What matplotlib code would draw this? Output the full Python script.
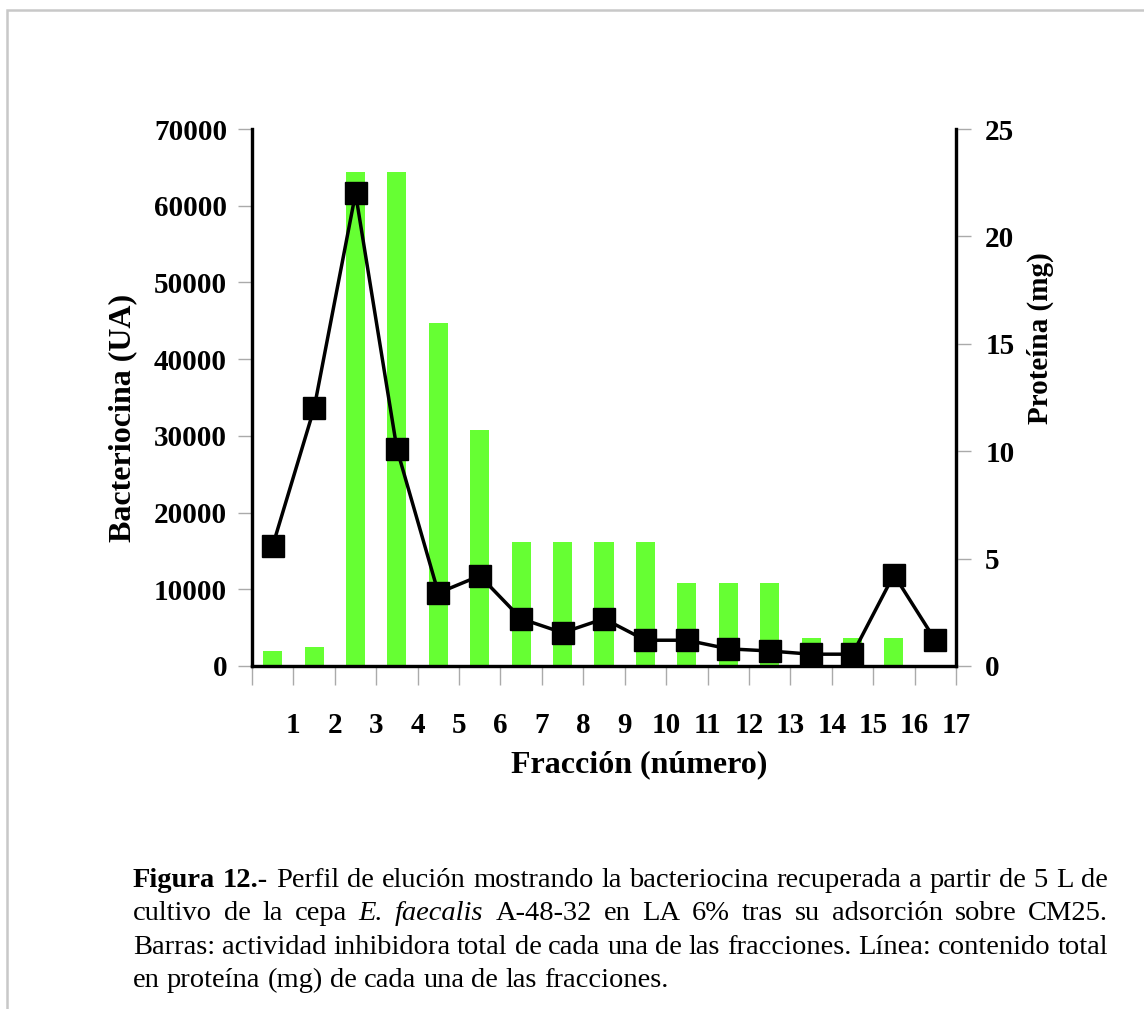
import matplotlib
matplotlib.use("Agg")
import matplotlib.pyplot as plt
from matplotlib.patches import Rectangle

# Datos
fracciones = list(range(1, 18))
bacteriocina = [1950, 2500, 64400, 64400, 44700, 30700, 16100, 16100, 16100, 16100,
                10800, 10800, 10800, 3600, 3600, 3600, 0]
proteina = [5.6, 12.0, 22.0, 10.1, 3.4, 4.2, 2.2, 1.55, 2.2, 1.2,
            1.2, 0.8, 0.7, 0.55, 0.55, 4.25, 1.2]
yticks_izq = [0, 10000, 20000, 30000, 40000, 50000, 60000, 70000]
yticks_der = [0, 5, 10, 15, 20, 25]

W, H = 1144, 1009
plt.rcParams['font.family'] = ['Liberation Serif', 'DejaVu Serif']
fig = plt.figure(figsize=(W / 100, H / 100), dpi=100)

# caja gris alrededor
fig.patches.append(Rectangle((7 / W, -0.5), 2, 1.5 - 10 / H, transform=fig.transFigure,
                             fill=False, edgecolor='#c8c8c8', lw=1.8))

ax = fig.add_axes([252 / W, 1 - 666 / H, (956 - 252) / W, (666 - 129) / H])
ax2 = ax.twinx()

xs = [f - 0.5 for f in fracciones]
ax.bar(xs, bacteriocina, width=0.46, color='#66ff33', zorder=2)
ax2.plot(xs, proteina, color='black', lw=2.5, marker='s', markersize=16.5,
         markerfacecolor='black', markeredgecolor='black', zorder=3)

ax.set_xlim(0, 17)
ax.set_ylim(0, 70000)
ax2.set_ylim(0, 25)

ax.set_xticks(range(0, 18))
ax.set_xticklabels([''] + [str(f) for f in fracciones])
ax.set_yticks(yticks_izq)
ax.set_yticklabels([str(v) for v in yticks_izq])
ax2.set_yticks(yticks_der)
ax2.set_yticklabels([str(v) for v in yticks_der])

for a in (ax, ax2):
    a.spines['top'].set_visible(False)
    for s in ('left', 'right', 'bottom'):
        a.spines[s].set_linewidth(2.3)
        a.spines[s].set_color('black')

ax.tick_params(axis='x', direction='out', length=14, width=1, color='#aaaaaa', pad=19,
               labelsize=21)
ax.tick_params(axis='y', direction='out', length=10, width=1, color='#aaaaaa', pad=8,
               labelsize=21)
ax2.tick_params(axis='y', direction='out', length=11, width=1, color='#aaaaaa', pad=10,
                labelsize=21)
for lab in ax.get_xticklabels() + ax.get_yticklabels() + ax2.get_yticklabels():
    lab.set_fontweight('bold')

fig.text(639 / W, 1 - 765 / H, 'Fracción (número)', ha='center', va='center',
         fontsize=23, fontweight='bold')
fig.text(123 / W, 1 - 418 / H, 'Bacteriocina (UA)', ha='center', va='center',
         rotation=90, fontsize=23, fontweight='bold')
fig.text(1040 / W, 1 - 338 / H, 'Proteína (mg)', ha='center', va='center',
         rotation=90, fontsize=21, fontweight='bold')

# pie de figura justificado
lineas = [
    [('Figura', 'b'), ('12.-', 'b'), ('Perfil', 'n'), ('de', 'n'), ('elución', 'n'),
     ('mostrando', 'n'), ('la', 'n'), ('bacteriocina', 'n'), ('recuperada', 'n'),
     ('a', 'n'), ('partir', 'n'), ('de', 'n'), ('5', 'n'), ('L', 'n'), ('de', 'n')],
    [('cultivo', 'n'), ('de', 'n'), ('la', 'n'), ('cepa', 'n'), ('E.', 'i'),
     ('faecalis', 'i'), ('A-48-32', 'n'), ('en', 'n'), ('LA', 'n'), ('6%', 'n'),
     ('tras', 'n'), ('su', 'n'), ('adsorción', 'n'), ('sobre', 'n'), ('CM25.', 'n')],
    [('Barras:', 'n'), ('actividad', 'n'), ('inhibidora', 'n'), ('total', 'n'),
     ('de', 'n'), ('cada', 'n'), ('una', 'n'), ('de', 'n'), ('las', 'n'),
     ('fracciones.', 'n'), ('Línea:', 'n'), ('contenido', 'n'), ('total', 'n')],
    [('en', 'n'), ('proteína', 'n'), ('(mg)', 'n'), ('de', 'n'), ('cada', 'n'),
     ('una', 'n'), ('de', 'n'), ('las', 'n'), ('fracciones.', 'n')],
]
bases = [887, 920, 954, 987]
x0, x1 = 133, 1108
fs_cap = 20.5

renderer = fig.canvas.get_renderer()
t_esp = fig.text(0, 0, 'a a', fontsize=fs_cap)
t_sin = fig.text(0, 0, 'aa', fontsize=fs_cap)
esp_w = t_esp.get_window_extent(renderer).width - t_sin.get_window_extent(renderer).width
t_esp.remove()
t_sin.remove()

for i, (linea, yb) in enumerate(zip(lineas, bases)):
    objs = []
    for palabra, estilo in linea:
        t = fig.text(0, 1 - yb / H, palabra, fontsize=fs_cap, va='baseline', ha='left',
                     fontweight='bold' if estilo == 'b' else 'normal',
                     fontstyle='italic' if estilo == 'i' else 'normal')
        objs.append(t)
    anchos = [t.get_window_extent(renderer).width for t in objs]
    if i < len(lineas) - 1:
        gap = (x1 - x0 - sum(anchos)) / (len(objs) - 1)
    else:
        gap = esp_w
    x = x0
    for t, w in zip(objs, anchos):
        t.set_x(x / W)
        x += w + gap

fig.savefig('out.png', dpi=100)
